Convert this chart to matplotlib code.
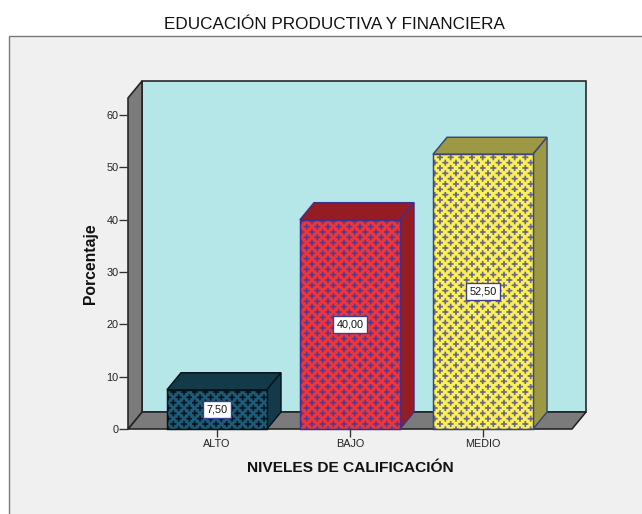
import matplotlib
matplotlib.use("Agg")
import matplotlib.pyplot as plt
import matplotlib.hatch as mhatch
from matplotlib.patches import Polygon, Rectangle
from matplotlib.path import Path
import numpy as np

categories = ["ALTO", "BAJO", "MEDIO"]
values = [7.5, 40.0, 52.5]
value_labels = ["7,50", "40,00", "52,50"]
y_ticks = [0, 10, 20, 30, 40, 50, 60]
title = "EDUCACIÓN PRODUCTIVA Y FINANCIERA"
x_title = "NIVELES DE CALIFICACIÓN"
y_title = "Porcentaje"
front_colors = ["#1c5a78", "#f0343c", "#fff05a"]
side_colors = ["#123a48", "#951c22", "#9c9844"]
edge_colors = ["#06141c", "#40308c", "#3a4678"]
hatch_colors = ["#06141c", "#5a3a84", "#666a84"]


class StaggeredPlus(mhatch.HatchPatternBase):
    """Staggered small plus signs."""
    def __init__(self, hatch, density):
        self.n = hatch.count("@") * 9
        self.num_vertices = self.n * self.n * 2 * 4

    def set_vertices_and_codes(self, vertices, codes):
        if self.n == 0:
            return
        arm = 0.023
        step = 1.0 / self.n
        i = 0
        for r in range(self.n):
            for c in range(self.n):
                for ox, oy in ((0.25, 0.25), (0.75, 0.75)):
                    x, y = (c + ox) * step, (r + oy) * step
                    vertices[i:i + 4] = [(x - arm, y), (x + arm, y), (x, y - arm), (x, y + arm)]
                    codes[i:i + 4] = [Path.MOVETO, Path.LINETO, Path.MOVETO, Path.LINETO]
                    i += 4


mhatch._hatch_types.append(StaggeredPlus)
plt.rcParams["hatch.linewidth"] = 1.25
plt.rcParams["font.family"] = ["Liberation Sans"]

W, H = 642, 514
DPI = 96
fig = plt.figure(figsize=(W / DPI, H / DPI), dpi=DPI, facecolor="white")

# outer panel (runs off the right and bottom of the image)
panel = Rectangle((9 / W, 1 - 530 / H), (660 - 9) / W, (530 - 36) / H, transform=fig.transFigure,
                  facecolor="#f0f0f0", edgecolor="#777777", linewidth=1.0, zorder=-1)
fig.add_artist(panel)

# front plane of the plot
L, R, B, T = 128, 572, 429, 98
ax = fig.add_axes([L / W, 1 - B / H, (R - L) / W, (B - T) / H])
ax.set_xlim(-0.669, 2.669)
ax.set_ylim(0, (B - T) / 5.233)
ax.patch.set_visible(False)
for s in ax.spines.values():
    s.set_visible(False)

x0, x1 = ax.get_xlim()
y0, y1 = ax.get_ylim()
dx = 14 / 133
dy = 17 / 5.233
wall_lw = 1.2
dark = "#222222"
# back wall, floor, side wall
ax.add_patch(Polygon([(x0 + dx, y0 + dy), (x1 + dx, y0 + dy), (x1 + dx, y1 + dy), (x0 + dx, y1 + dy)],
                     facecolor="#b5e6e8", edgecolor=dark, lw=wall_lw, clip_on=False, zorder=1))
ax.add_patch(Polygon([(x0, y0), (x1, y0), (x1 + dx, y0 + dy), (x0 + dx, y0 + dy)],
                     facecolor="#7b7b7b", edgecolor=dark, lw=wall_lw, clip_on=False, zorder=1.5))
ax.add_patch(Polygon([(x0, y0), (x0 + dx, y0 + dy), (x0 + dx, y1 + dy), (x0, y1)],
                     facecolor="#7b7b7b", edgecolor=dark, lw=wall_lw, clip_on=False, zorder=1.5))

bar_w = 100 / 133
for i, v in enumerate(values):
    a, b = i - bar_w / 2, i + bar_w / 2
    ec = edge_colors[i]
    ax.add_patch(Polygon([(a, v), (b, v), (b + dx, v + dy), (a + dx, v + dy)],
                         facecolor=side_colors[i], edgecolor=ec, lw=1.1, clip_on=False, zorder=2))
    ax.add_patch(Polygon([(b, 0), (b + dx, dy), (b + dx, v + dy), (b, v)],
                         facecolor=side_colors[i], edgecolor=ec, lw=1.1, clip_on=False, zorder=2))
    ax.bar(i, v, width=bar_w, color=front_colors[i], edgecolor=hatch_colors[i], hatch="@", linewidth=0,
           zorder=3, clip_on=False)
    ax.bar(i, v, width=bar_w, color="none", edgecolor=ec, linewidth=1.1, zorder=3.5, clip_on=False)
    ax.text(i, v / 2, value_labels[i], ha="center", va="center", fontsize=8.2, color="#111111", zorder=5,
            bbox=dict(boxstyle="square,pad=0.3", facecolor="white", edgecolor="#3c3c90", linewidth=1.0))

ax.set_xticks(range(len(categories)), categories)
ax.set_yticks(y_ticks, [str(t) for t in y_ticks])
ax.tick_params(axis="x", length=6, width=1.0, color="#333333", labelsize=8.2, labelcolor="#222222", pad=1.5)
ax.tick_params(axis="y", length=7, width=1.0, color="#333333", labelsize=8.2, labelcolor="#222222", pad=0)

fig.text(334 / W, 1 - 24 / H, title, ha="center", va="center", fontsize=12.8, color="#111111")
fig.text(350 / W, 1 - 468 / H, x_title, ha="center", va="center", fontsize=11.6, fontweight="bold", color="#111111")
fig.text(91 / W, 1 - 264 / H, y_title, ha="center", va="center", rotation=90, fontsize=11.8, fontweight="bold", color="#111111")

fig.savefig("out.png", dpi=DPI, facecolor="white")
